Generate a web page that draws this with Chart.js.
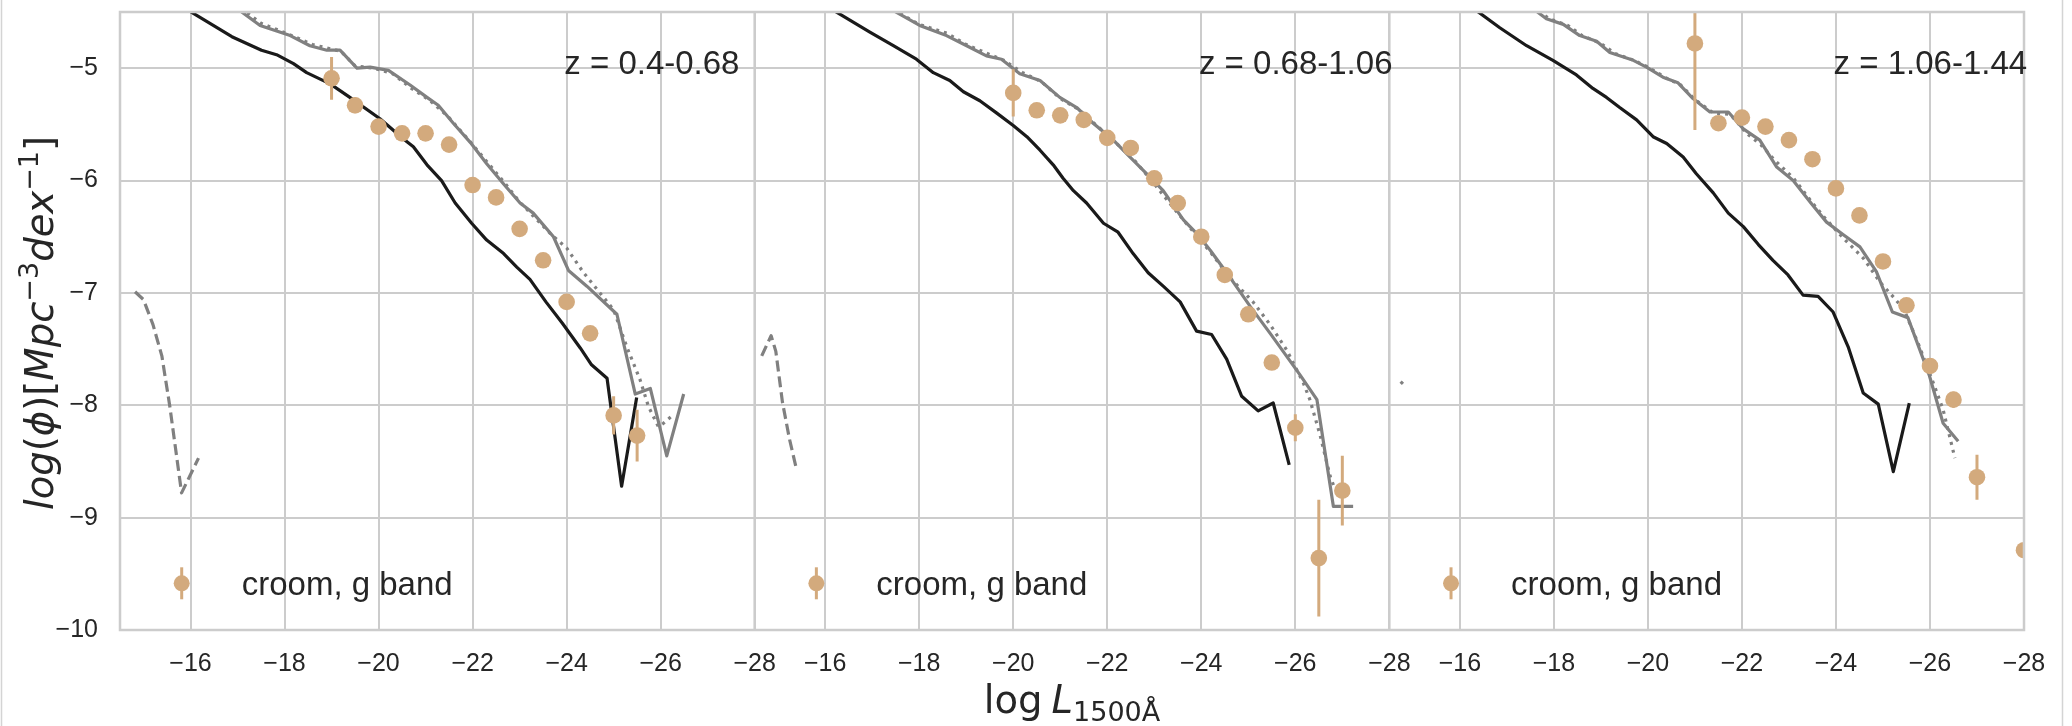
<!DOCTYPE html>
<html>
<head>
<meta charset="utf-8">
<script src="https://cdn.jsdelivr.net/npm/chart.js@4.4.1/dist/chart.umd.min.js"></script>
<style>
  html, body { margin: 0; padding: 0; background: #fff; }
  #wrap { width: 2072px; height: 726px; }
</style>
</head>
<body>
<div id="wrap"><canvas id="lf" width="2072" height="726"></canvas></div>
<script>
'use strict'

const panelLabels = ['z = 0.4-0.68', 'z = 0.68-1.06', 'z = 1.06-1.44']
const xTicks = [-16, -18, -20, -22, -24, -26, -28]
const yTicks = [-10, -9, -8, -7, -6, -5]

// croom, g band points (x, log phi, error)
const croomX1 = [-19, -19.5, -20, -20.5, -21, -21.5, -22, -22.5, -23, -23.5, -24, -24.5, -25, -25.5]
const croomY1 = [-5.09, -5.33, -5.52, -5.58, -5.58, -5.68, -6.04, -6.15, -6.43, -6.71, -7.08, -7.36, -8.09, -8.27]
const croomErr1 = [0.19, 0.07, 0.04, 0.04, 0.04, 0.04, 0.04, 0.04, 0.04, 0.04, 0.04, 0.04, 0.17, 0.23]

const croomX2 = [-20, -20.5, -21, -21.5, -22, -22.5, -23, -23.5, -24, -24.5, -25, -25.5, -26, -26.5, -27]
const croomY2 = [-5.22, -5.375, -5.42, -5.46, -5.62, -5.71, -5.98, -6.2, -6.5, -6.84, -7.19, -7.62, -8.2, -9.36, -8.76]
const croomErr2 = [0.21, 0.04, 0.04, 0.04, 0.04, 0.04, 0.04, 0.04, 0.04, 0.04, 0.04, 0.05, 0.12, 0.52, 0.31]

const croomX3 = [-21, -21.5, -22, -22.5, -23, -23.5, -24, -24.5, -25, -25.5, -26, -26.5, -27, -28]
const croomY3 = [-4.78, -5.49, -5.44, -5.52, -5.64, -5.81, -6.07, -6.31, -6.72, -7.11, -7.65, -7.95, -8.64, -9.29]
const croomErr3 = [0.77, 0.04, 0.04, 0.04, 0.04, 0.04, 0.04, 0.04, 0.04, 0.04, 0.04, 0.07, 0.2, 0.04]

// model curves, [x, y] pairs
const black1 = [[-15.5, -4.37], [-16.88, -4.72], [-17.51, -4.84], [-17.83, -4.88], [-18.19, -4.96], [-18.47, -5.04], [-18.97, -5.14], [-19.39, -5.26], [-20.03, -5.45], [-20.53, -5.63], [-20.74, -5.7], [-21.03, -5.86], [-21.34, -6.0], [-21.63, -6.2], [-21.98, -6.38], [-22.3, -6.53], [-22.66, -6.65], [-22.94, -6.77], [-23.22, -6.88], [-23.56, -7.08], [-23.91, -7.27], [-24.29, -7.49], [-24.53, -7.64], [-24.86, -7.76], [-25.17, -8.72], [-25.49, -7.93]]
const grey1 = [[-16.7, -4.38], [-17.48, -4.62], [-18.12, -4.71], [-18.54, -4.8], [-18.9, -4.84], [-19.18, -4.84], [-19.54, -5.0], [-19.82, -4.99], [-20.21, -5.02], [-20.67, -5.15], [-21.03, -5.26], [-21.27, -5.33], [-21.59, -5.49], [-21.95, -5.66], [-22.3, -5.85], [-22.66, -6.03], [-23.01, -6.2], [-23.29, -6.29], [-23.72, -6.5], [-24.04, -6.8], [-24.43, -6.94], [-25.07, -7.19], [-25.46, -7.9], [-25.78, -7.85], [-26.13, -8.45], [-26.49, -7.9]]
const dotted1 = [[-16.8, -4.38], [-17.5, -4.6], [-18.1, -4.7], [-18.6, -4.79], [-19.2, -4.85], [-19.5, -4.98], [-19.9, -5.0], [-20.3, -5.05], [-20.7, -5.18], [-21.1, -5.29], [-21.5, -5.44], [-21.9, -5.63], [-22.3, -5.83], [-22.7, -6.03], [-23.0, -6.19], [-23.3, -6.32], [-23.65, -6.47], [-24.0, -6.6], [-24.36, -6.82], [-25.0, -7.15], [-25.28, -7.48], [-25.56, -7.77], [-25.74, -8.01], [-25.95, -8.19], [-26.06, -8.16], [-26.28, -8.08]]
const dashed1 = [[-14.82, -6.99], [-15.0, -7.06], [-15.2, -7.28], [-15.39, -7.56], [-15.56, -8.01], [-15.81, -8.78], [-16.17, -8.47]]

const black2 = [[-15.8, -4.39], [-16.95, -4.68], [-17.45, -4.8], [-17.94, -4.92], [-18.3, -5.04], [-18.65, -5.11], [-18.94, -5.21], [-19.29, -5.29], [-19.65, -5.4], [-20.0, -5.51], [-20.29, -5.61], [-20.57, -5.73], [-20.85, -5.86], [-21.06, -5.98], [-21.28, -6.09], [-21.56, -6.2], [-21.92, -6.38], [-22.23, -6.46], [-22.55, -6.65], [-22.87, -6.82], [-23.19, -6.94], [-23.55, -7.08], [-23.9, -7.34], [-24.22, -7.37], [-24.54, -7.59], [-24.86, -7.92], [-25.21, -8.05], [-25.53, -7.98], [-25.87, -8.53]]
const grey2 = [[-17.0, -4.38], [-18.01, -4.62], [-18.58, -4.71], [-19.01, -4.8], [-19.43, -4.89], [-19.75, -4.92], [-20.14, -5.05], [-20.57, -5.11], [-20.99, -5.26], [-21.35, -5.35], [-21.7, -5.49], [-22.13, -5.64], [-22.48, -5.79], [-22.84, -5.94], [-23.19, -6.09], [-23.62, -6.35], [-23.9, -6.47], [-24.19, -6.62], [-24.54, -6.82], [-25.04, -7.12], [-25.5, -7.38], [-26.1, -7.73], [-26.46, -7.95], [-26.81, -8.9], [-27.23, -8.9]]
const dotted2 = [[-17.0, -4.37], [-18.0, -4.61], [-18.6, -4.69], [-19.0, -4.79], [-19.45, -4.87], [-19.8, -4.93], [-20.2, -5.04], [-20.6, -5.12], [-21.0, -5.27], [-21.4, -5.37], [-21.8, -5.52], [-22.2, -5.67], [-22.6, -5.83], [-23.0, -6.03], [-23.4, -6.24], [-23.8, -6.44], [-24.2, -6.64], [-24.6, -6.86], [-25.1, -7.08], [-25.46, -7.28], [-25.82, -7.51], [-26.17, -7.8], [-26.31, -7.95], [-26.53, -8.27], [-26.74, -8.63], [-26.82, -8.72]]
const dashed2 = [[-14.65, -7.56], [-14.85, -7.38], [-14.95, -7.52], [-15.09, -7.97], [-15.24, -8.3], [-15.39, -8.57]]

const black3 = [[-16.0, -4.38], [-16.85, -4.64], [-17.42, -4.8], [-17.98, -4.93], [-18.48, -5.06], [-18.83, -5.18], [-19.12, -5.26], [-19.4, -5.35], [-19.76, -5.46], [-20.11, -5.61], [-20.4, -5.67], [-20.75, -5.79], [-21.03, -5.94], [-21.39, -6.11], [-21.71, -6.29], [-22.03, -6.41], [-22.35, -6.57], [-22.66, -6.71], [-22.98, -6.84], [-23.3, -7.02], [-23.62, -7.03], [-23.94, -7.17], [-24.26, -7.48], [-24.58, -7.89], [-24.9, -7.99], [-25.22, -8.59], [-25.56, -7.98]]
const grey3 = [[-17.4, -4.42], [-17.84, -4.56], [-18.2, -4.61], [-18.55, -4.71], [-18.91, -4.76], [-19.19, -4.86], [-19.69, -4.93], [-19.97, -4.99], [-20.32, -5.08], [-20.64, -5.13], [-20.96, -5.27], [-21.32, -5.39], [-21.71, -5.39], [-22.03, -5.54], [-22.38, -5.64], [-22.74, -5.88], [-23.09, -6.0], [-23.45, -6.19], [-23.8, -6.37], [-24.15, -6.48], [-24.51, -6.59], [-24.86, -6.81], [-25.2, -7.17], [-25.53, -7.22], [-25.99, -7.74], [-26.28, -8.16], [-26.6, -8.32]]
const dotted3 = [[-17.4, -4.41], [-17.9, -4.56], [-18.3, -4.62], [-18.6, -4.71], [-19.0, -4.78], [-19.3, -4.87], [-19.7, -4.93], [-20.0, -4.99], [-20.4, -5.09], [-20.7, -5.15], [-21.0, -5.28], [-21.4, -5.4], [-21.75, -5.41], [-22.1, -5.58], [-22.4, -5.68], [-22.7, -5.82], [-23.1, -5.98], [-23.5, -6.2], [-23.8, -6.35], [-24.15, -6.51], [-24.58, -6.69], [-24.93, -6.9], [-25.25, -7.05], [-25.45, -7.15], [-25.75, -7.45], [-26.07, -7.8], [-26.28, -8.04], [-26.53, -8.47]]
const dashed3 = [[-14.74, -7.79], [-14.79, -7.81]]

const TAN = 'rgb(211,170,125)'
const GREY = '#808080'
const TEXT = '#262626'
const GRID = '#cccccc'

const pairs = a => a.map(([x, y]) => ({ x, y }))

function lineSet(pts, color, dash, axis) {
  return {
    type: 'scatter',
    showLine: true,
    data: pairs(pts),
    xAxisID: axis,
    borderColor: color,
    backgroundColor: color,
    borderWidth: 3.2,
    borderDash: dash,
    borderJoinStyle: 'round',
    pointRadius: 0,
    pointHoverRadius: 0,
    order: 1
  }
}

function panelSets(axis, cx, cy, cerr, black, grey, dotted, dashed) {
  return [
    {
      type: 'scatter',
      label: 'croom, g band',
      data: cx.map((x, i) => ({ x, y: cy[i] })),
      errors: cerr,
      xAxisID: axis,
      backgroundColor: TAN,
      borderWidth: 0,
      pointRadius: 8.3,
      pointHoverRadius: 8.3,
      order: 0
    },
    lineSet(black, '#1a1a1a', [], axis),
    lineSet(grey, GREY, [], axis),
    lineSet(dotted, GREY, [3, 5], axis),
    lineSet(dashed, GREY, [11, 5], axis)
  ]
}

const datasets = [
  ...panelSets('x1', croomX1, croomY1, croomErr1, black1, grey1, dotted1, dashed1),
  ...panelSets('x2', croomX2, croomY2, croomErr2, black2, grey2, dotted2, dashed2),
  ...panelSets('x3', croomX3, croomY3, croomErr3, black3, grey3, dotted3, dashed3)
]

const minus = v => String(v).replace('-', '\u2212')
const tickFont = { family: '"Liberation Sans", Arial, sans-serif', size: 25 }

function xScale() {
  return {
    type: 'linear',
    position: 'bottom',
    stack: 'panels',
    stackWeight: 1,
    reverse: true,
    min: -28,
    max: -14.5,
    afterBuildTicks: s => { s.ticks = xTicks.map(v => ({ value: v })) },
    afterFit: s => { s.height = 96; s.paddingLeft = 0; s.paddingRight = 0 },
    grid: { color: GRID, lineWidth: 2, drawTicks: false },
    border: { display: false },
    ticks: { font: tickFont, color: TEXT, padding: 19, autoSkip: false, maxRotation: 0, callback: minus }
  }
}

// error bars under the croom markers
const errorBars = {
  id: 'errorBars',
  beforeDatasetDraw(chart, args) {
    const ds = chart.data.datasets[args.index]
    if (!ds.errors) return
    const xs = args.meta.xScale
    const ys = args.meta.yScale
    const ctx = chart.ctx
    ctx.save()
    ctx.beginPath()
    ctx.rect(xs.left, ys.top, xs.right - xs.left, ys.bottom - ys.top)
    ctx.clip()
    ctx.strokeStyle = ds.backgroundColor
    ctx.lineWidth = 3
    ds.data.forEach((pt, i) => {
      const x = xs.getPixelForValue(pt.x)
      ctx.beginPath()
      ctx.moveTo(x, ys.getPixelForValue(pt.y - ds.errors[i]))
      ctx.lineTo(x, ys.getPixelForValue(pt.y + ds.errors[i]))
      ctx.stroke()
    })
    ctx.restore()
  }
}

// frame, panel labels, legends and axis titles
const decorations = {
  id: 'decorations',
  beforeDraw(chart) {
    const ctx = chart.ctx
    ctx.save()
    ctx.strokeStyle = '#d4d4d4'
    ctx.lineWidth = 1.5
    ctx.beginPath()
    ctx.moveTo(1.5, 0); ctx.lineTo(1.5, chart.height)
    ctx.moveTo(2062.5, 0); ctx.lineTo(2062.5, chart.height)
    ctx.stroke()
    ctx.restore()
  },
  afterDatasetsDraw(chart) {
    const ctx = chart.ctx
    const area = chart.chartArea
    ctx.save()
    ctx.strokeStyle = GRID
    ctx.lineWidth = 2.5
    ctx.strokeRect(area.left, area.top, area.right - area.left, area.bottom - area.top)
    ctx.beginPath()
    ;['x2', 'x3'].forEach(id => {
      const l = chart.scales[id].left
      ctx.moveTo(l, area.top); ctx.lineTo(l, area.bottom)
    })
    ctx.stroke()

    ;['x1', 'x2', 'x3'].forEach((id, p) => {
      const s = chart.scales[id]
      const w = s.right - s.left
      ctx.fillStyle = TEXT
      ctx.font = '33px "Liberation Sans", Arial, sans-serif'
      ctx.textAlign = 'left'
      ctx.textBaseline = 'alphabetic'
      ctx.fillText(panelLabels[p], s.left + 0.7 * w, area.bottom - 0.9 * (area.bottom - area.top))

      // legend entry
      const ds = chart.data.datasets[p * 5]
      const mx = s.left + 61.7
      const my = area.bottom - 46.7
      ctx.strokeStyle = TAN
      ctx.lineWidth = 3
      ctx.beginPath()
      ctx.moveTo(mx, my - 16); ctx.lineTo(mx, my + 16)
      ctx.stroke()
      ctx.fillStyle = TAN
      ctx.beginPath()
      ctx.arc(mx, my, 8, 0, Math.PI * 2)
      ctx.fill()
      ctx.fillStyle = TEXT
      ctx.fillText(ds.label, s.left + 121.7, area.bottom - 35)
    })
    ctx.restore()
  },
  afterDraw(chart) {
    const ctx = chart.ctx
    const area = chart.chartArea
    const big = 38.6
    const sub = 27
    const fam = '"DejaVu Sans", sans-serif'
    ctx.save()
    ctx.fillStyle = TEXT
    ctx.textBaseline = 'alphabetic'
    ctx.textAlign = 'left'

    // x title: log L_1500Å
    const parts = [
      { t: 'log', f: `${big}px ${fam}`, dy: 0, gap: 9 },
      { t: 'L', f: `italic ${big}px ${fam}`, dy: 0, gap: 0 },
      { t: '1500Å', f: `${sub}px ${fam}`, dy: 8, gap: 0 }
    ]
    let total = 0
    parts.forEach(q => { ctx.font = q.f; q.w = ctx.measureText(q.t).width; total += q.w + q.gap })
    let x = (area.left + area.right) / 2 - total / 2
    parts.forEach(q => { ctx.font = q.f; ctx.fillText(q.t, x, 713 + q.dy); x += q.w + q.gap })

    // y title: log(ϕ)[Mpc^-3 dex^-1]
    const yparts = [
      { t: 'log', f: `italic ${big}px ${fam}`, dy: 0 },
      { t: '(', f: `${big}px ${fam}`, dy: 0 },
      { t: 'ϕ', f: `italic ${big}px ${fam}`, dy: 0 },
      { t: ')[', f: `${big}px ${fam}`, dy: 0 },
      { t: 'Mpc', f: `italic ${big}px ${fam}`, dy: 0 },
      { t: '\u22123', f: `${sub}px ${fam}`, dy: -15 },
      { t: 'dex', f: `italic ${big}px ${fam}`, dy: 0 },
      { t: '\u22121', f: `${sub}px ${fam}`, dy: -15 },
      { t: ']', f: `${big}px ${fam}`, dy: 0 }
    ]
    total = 0
    yparts.forEach(q => { ctx.font = q.f; q.w = ctx.measureText(q.t).width; total += q.w })
    ctx.translate(53, (area.top + area.bottom) / 2 + 2)
    ctx.rotate(-Math.PI / 2)
    x = -total / 2
    yparts.forEach(q => { ctx.font = q.f; ctx.fillText(q.t, x, q.dy); x += q.w })
    ctx.restore()
  }
}

new Chart(document.getElementById('lf'), {
  type: 'scatter',
  data: { datasets },
  options: {
    responsive: false,
    animation: false,
    devicePixelRatio: 1,
    layout: { padding: { top: 12, right: 48, bottom: 0, left: 0 } },
    plugins: {
      legend: { display: false },
      tooltip: { enabled: false }
    },
    scales: {
      x1: xScale(),
      x2: xScale(),
      x3: xScale(),
      y: {
        type: 'linear',
        position: 'left',
        min: -10,
        max: -4.5,
        afterBuildTicks: s => { s.ticks = yTicks.map(v => ({ value: v })) },
        afterFit: s => { s.width = 120; s.paddingTop = 0; s.paddingBottom = 0 },
        grid: { color: GRID, lineWidth: 2, drawTicks: false },
        border: { display: false },
        ticks: { font: tickFont, color: TEXT, padding: 22, callback: minus }
      }
    }
  },
  plugins: [errorBars, decorations]
})
</script>
</body>
</html>
